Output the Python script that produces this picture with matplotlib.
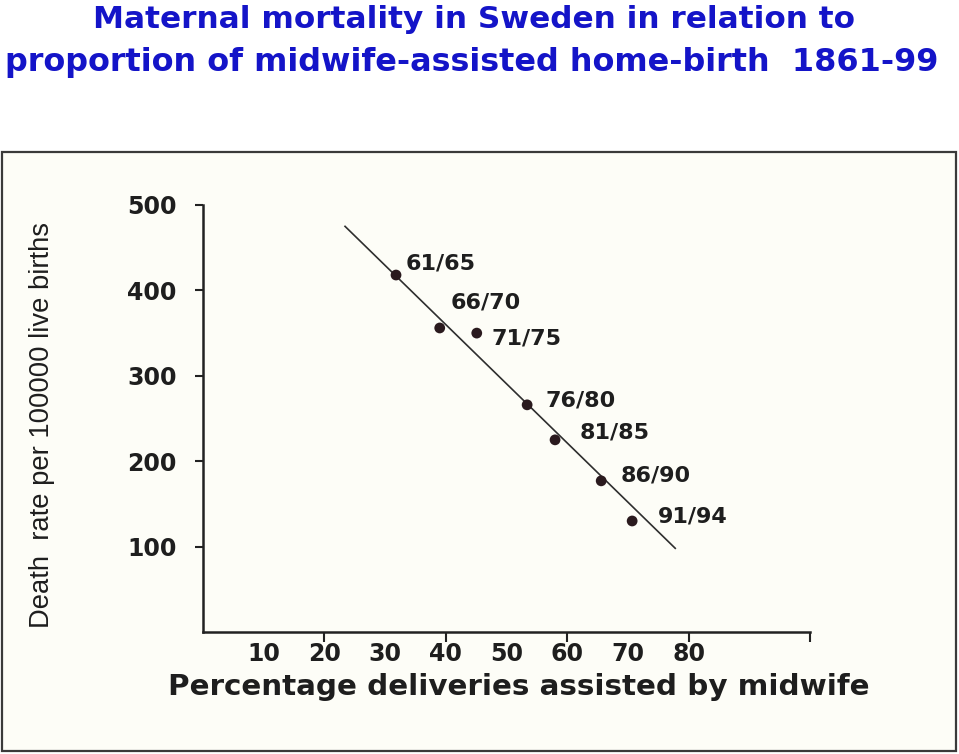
import matplotlib
matplotlib.use("Agg")
import matplotlib.pyplot as plt
from matplotlib.patches import Rectangle

# ---- data ----
periods = ["61/65", "66/70", "71/75", "76/80", "81/85", "86/90", "91/94"]
pct_midwife = [31.8, 39.0, 45.1, 53.4, 58.0, 65.6, 70.7]
death_rate = [418, 356, 350, 266, 225, 177, 130]
trend_x = [23.4, 77.8]
trend_y = [475, 98]
xtick_labels = [10, 20, 30, 40, 50, 60, 70, 80]
xtick_marks = [20, 40, 60, 80, 100]
ytick_values = [100, 200, 300, 400, 500]

title1 = "Maternal mortality in Sweden in relation to"
title2 = "proportion of midwife-assisted home-birth  1861-99"
xlabel = "Percentage deliveries assisted by midwife"
ylabel = "Death  rate per 100000 live births"

# label offsets in pixels (dx, dy) relative to each point
label_offsets = [(10, 12), (11, 25), (15, -5), (18, 4), (25, 7), (19, 5), (26, 4)]

W, H = 959, 754
fig = plt.figure(figsize=(W / 100, H / 100), dpi=100)
fig.patch.set_facecolor("white")

def fx(px):
    return px / W

def fy(py):
    return 1 - py / H

# picture frame
frame = Rectangle((fx(2), fy(751)), fx(956) - fx(2), fy(152) - fy(751),
                  transform=fig.transFigure, facecolor="#fdfdf7",
                  edgecolor="#3a3a3a", linewidth=1.6, zorder=-10)
fig.patches.append(frame)

ax = fig.add_axes([fx(203), fy(632), fx(810) - fx(203), fy(205) - fy(632)])
ax.set_zorder(5)
ax.patch.set_visible(False)
ax.set_xlim(0, 100)
ax.set_ylim(0, 500)
for s in ["top", "right"]:
    ax.spines[s].set_visible(False)
for s in ["left", "bottom"]:
    ax.spines[s].set_color("#222222")
    ax.spines[s].set_linewidth(1.8)

ink = "#1e1e1e"
ax.plot(trend_x, trend_y, color="#2e2e2e", linewidth=1.2, zorder=2)
ax.scatter(pct_midwife, death_rate, s=60, color="#2a1a1e", zorder=3, edgecolors="none")

for (lab, x, y, (dx, dy)) in zip(periods, pct_midwife, death_rate, label_offsets):
    ax.annotate(lab, (x, y), xytext=(dx, dy), textcoords="offset pixels",
                ha="left", va="center", fontsize=16, fontweight="bold",
                color=ink, family="DejaVu Sans")

ax.set_yticks(ytick_values)
ax.set_yticklabels([str(v) for v in ytick_values], fontsize=17,
                   fontweight="bold", color=ink, family="DejaVu Sans")
ax.tick_params(axis="y", direction="out", length=6, width=1.5, pad=13, colors="#222222")
for t in ax.get_yticklabels():
    t.set_color(ink)

ax.xaxis.remove_overlapping_locs = False
ax.set_xticks(xtick_labels)
ax.set_xticklabels([str(v) for v in xtick_labels], fontsize=17,
                   fontweight="bold", color=ink, family="DejaVu Sans")
ax.tick_params(axis="x", which="major", length=0, pad=7)
ax.set_xticks(xtick_marks, minor=True)
ax.tick_params(axis="x", which="minor", direction="out", length=7, width=1.5, colors="#222222")

fig.canvas.draw()
renderer = fig.canvas.get_renderer()

def fit(txt, target_w):
    for _ in range(4):
        w = txt.get_window_extent(renderer).width
        txt.set_fontsize(txt.get_fontsize() * target_w / w)

t1 = fig.text(fx(474), fy(19), title1, ha="center", va="center",
              fontsize=22, fontweight="bold", color="#1414c8", family="DejaVu Sans")
t2 = fig.text(fx(472), fy(62), title2, ha="center", va="center",
              fontsize=22, fontweight="bold", color="#1414c8", family="DejaVu Sans")
fit(t1, 763)
fit(t2, 935)

xl = fig.text(fx(519), fy(687), xlabel, ha="center", va="center",
              fontsize=15, fontweight="bold", color=ink, family="DejaVu Sans")
fit(xl, 702)
yl = fig.text(fx(42), fy(425), ylabel, ha="center", va="center", rotation=90,
              fontsize=17, color=ink, family="Liberation Sans")
fit_h = yl.get_window_extent(renderer).height
yl.set_fontsize(yl.get_fontsize() * 406 / fit_h)

fig.savefig("out.png", dpi=100, facecolor="white")
